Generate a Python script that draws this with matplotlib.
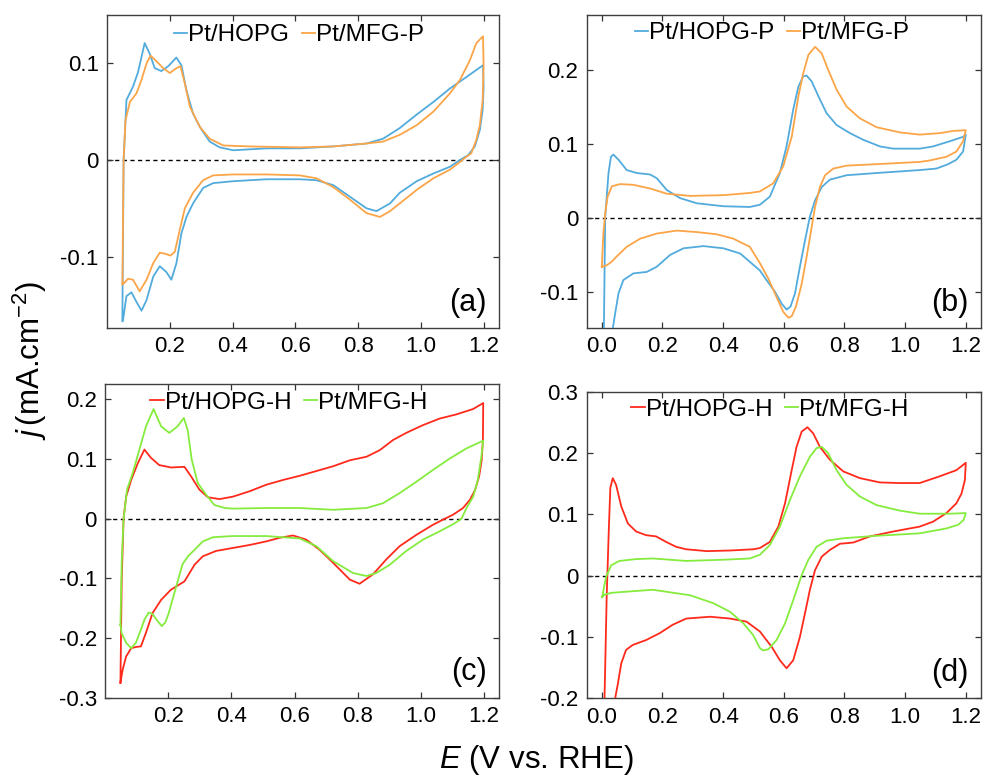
import numpy as np
import matplotlib
matplotlib.use("Agg")
import matplotlib.pyplot as plt

plt.rcParams['font.family'] = ['Liberation Sans', 'DejaVu Sans']
plt.rcParams['mathtext.fontset'] = 'custom'
plt.rcParams['mathtext.rm'] = 'Liberation Sans'
plt.rcParams['mathtext.it'] = 'Liberation Sans:italic'
plt.rcParams['axes.unicode_minus'] = False

# ---- panel (a): Pt/HOPG vs Pt/MFG-P ----
a_hopg_E_up = [0.049, 0.053, 0.062, 0.083, 0.099, 0.120, 0.136, 0.152, 0.173, 0.195, 0.221, 0.237, 0.253,
               0.274, 0.296, 0.327, 0.359, 0.402, 0.508, 0.614, 0.720, 0.826, 0.879, 0.932, 0.986, 1.039,
               1.092, 1.145, 1.197]
a_hopg_j_up = [-0.167, 0.0, 0.062, 0.076, 0.091, 0.121, 0.110, 0.095, 0.092, 0.097, 0.106, 0.098, 0.072,
               0.048, 0.034, 0.019, 0.013, 0.010, 0.012, 0.012, 0.014, 0.017, 0.022, 0.033, 0.047, 0.060,
               0.074, 0.086, 0.098]
a_hopg_E_dn = [1.199, 1.196, 1.187, 1.171, 1.150, 1.124, 1.092, 1.039, 0.986, 0.932, 0.901, 0.858, 0.826,
               0.773, 0.720, 0.667, 0.614, 0.508, 0.402, 0.338, 0.306, 0.274, 0.253, 0.237, 0.221, 0.205,
               0.189, 0.168, 0.147, 0.126, 0.110, 0.094, 0.078, 0.062, 0.051]
a_hopg_j_dn = [0.076, 0.052, 0.031, 0.014, 0.005, 0.0, -0.007, -0.014, -0.022, -0.034, -0.045, -0.053, -0.050,
               -0.038, -0.026, -0.021, -0.020, -0.020, -0.022, -0.024, -0.029, -0.045, -0.059, -0.076,
               -0.107, -0.124, -0.116, -0.110, -0.121, -0.145, -0.156, -0.147, -0.137, -0.141, -0.166]

a_mfgp_E_up = [0.049, 0.053, 0.059, 0.073, 0.094, 0.110, 0.126, 0.139, 0.158, 0.179, 0.200, 0.221, 0.234,
               0.248, 0.264, 0.296, 0.327, 0.370, 0.455, 0.614, 0.720, 0.826, 0.879, 0.932, 0.986, 1.039,
               1.092, 1.124, 1.155, 1.176, 1.197]
a_mfgp_j_up = [-0.129, 0.0, 0.041, 0.060, 0.069, 0.083, 0.100, 0.108, 0.102, 0.095, 0.090, 0.095, 0.097,
               0.079, 0.055, 0.034, 0.022, 0.015, 0.014, 0.013, 0.014, 0.017, 0.019, 0.026, 0.036, 0.050,
               0.069, 0.083, 0.103, 0.121, 0.128]
a_mfgp_E_dn = [1.199, 1.196, 1.187, 1.176, 1.160, 1.139, 1.124, 1.092, 1.039, 0.986, 0.932, 0.901, 0.869,
               0.826, 0.773, 0.720, 0.667, 0.614, 0.508, 0.402, 0.338, 0.306, 0.274, 0.248, 0.232, 0.216,
               0.202, 0.184, 0.168, 0.147, 0.126, 0.104, 0.083, 0.067, 0.053]
a_mfgp_j_dn = [0.097, 0.062, 0.036, 0.021, 0.007, 0.002, -0.002, -0.010, -0.019, -0.031, -0.045, -0.053,
               -0.059, -0.055, -0.041, -0.028, -0.019, -0.016, -0.015, -0.015, -0.016, -0.021, -0.034,
               -0.050, -0.072, -0.095, -0.099, -0.097, -0.096, -0.107, -0.124, -0.136, -0.124, -0.123, -0.128]

# ---- panel (b): Pt/HOPG-P vs Pt/MFG-P ----
b_hopg_E_up = [0.004, 0.011, 0.022, 0.030, 0.038, 0.055, 0.082, 0.115, 0.159, 0.181, 0.214, 0.258, 0.313,
               0.401, 0.488, 0.521, 0.554, 0.587, 0.609, 0.631, 0.648, 0.664, 0.675, 0.692, 0.714, 0.741,
               0.774, 0.818, 0.862, 0.917, 0.961, 1.048, 1.092, 1.147, 1.191, 1.200]
b_hopg_j_up = [-0.25, 0.0, 0.061, 0.083, 0.086, 0.079, 0.065, 0.061, 0.059, 0.054, 0.038, 0.027, 0.020,
               0.016, 0.015, 0.018, 0.029, 0.061, 0.097, 0.147, 0.178, 0.192, 0.193, 0.185, 0.165, 0.142,
               0.126, 0.115, 0.106, 0.097, 0.094, 0.094, 0.097, 0.104, 0.110, 0.113]
b_hopg_E_dn = [1.191, 1.169, 1.142, 1.103, 1.048, 0.906, 0.807, 0.752, 0.725, 0.703, 0.686, 0.670, 0.653,
               0.637, 0.622, 0.609, 0.593, 0.571, 0.543, 0.521, 0.456, 0.401, 0.335, 0.269, 0.225, 0.181,
               0.148, 0.104, 0.071, 0.055, 0.044, 0.036, 0.030]
b_hopg_j_dn = [0.090, 0.079, 0.073, 0.067, 0.065, 0.061, 0.058, 0.052, 0.042, 0.024, 0.002, -0.030, -0.066,
               -0.102, -0.120, -0.124, -0.116, -0.100, -0.084, -0.071, -0.048, -0.041, -0.038, -0.041,
               -0.050, -0.066, -0.073, -0.075, -0.084, -0.102, -0.129, -0.150, -0.25]

b_mfgp_E_up = [0.0, 0.005, 0.011, 0.019, 0.033, 0.060, 0.104, 0.159, 0.214, 0.291, 0.401, 0.488, 0.521,
               0.565, 0.598, 0.626, 0.648, 0.664, 0.681, 0.703, 0.725, 0.746, 0.774, 0.807, 0.851, 0.906,
               0.983, 1.048, 1.114, 1.158, 1.200]
b_mfgp_j_up = [-0.066, -0.021, 0.006, 0.029, 0.043, 0.046, 0.045, 0.040, 0.033, 0.030, 0.031, 0.034, 0.036,
               0.047, 0.070, 0.110, 0.165, 0.196, 0.221, 0.232, 0.223, 0.201, 0.174, 0.151, 0.135, 0.123,
               0.116, 0.113, 0.115, 0.118, 0.119]
b_mfgp_E_dn = [1.191, 1.169, 1.136, 1.081, 1.048, 0.906, 0.807, 0.763, 0.736, 0.719, 0.703, 0.692, 0.675,
               0.659, 0.640, 0.626, 0.615, 0.598, 0.576, 0.549, 0.521, 0.488, 0.434, 0.379, 0.313, 0.247,
               0.181, 0.126, 0.082, 0.049, 0.033, 0.016, 0.0]
b_mfgp_j_dn = [0.104, 0.090, 0.083, 0.078, 0.076, 0.073, 0.071, 0.067, 0.058, 0.042, 0.015, -0.012, -0.053,
               -0.089, -0.120, -0.133, -0.135, -0.127, -0.107, -0.082, -0.061, -0.039, -0.028, -0.022,
               -0.019, -0.017, -0.021, -0.028, -0.039, -0.052, -0.059, -0.064, -0.066]

# ---- panel (c): Pt/HOPG-H vs Pt/MFG-H ----
c_hopg_E_up = [0.048, 0.052, 0.058, 0.066, 0.082, 0.103, 0.124, 0.145, 0.171, 0.208, 0.251, 0.272, 0.298,
               0.325, 0.362, 0.404, 0.457, 0.510, 0.563, 0.616, 0.669, 0.722, 0.775, 0.828, 0.870, 0.912,
               0.954, 1.007, 1.060, 1.113, 1.166, 1.198]
c_hopg_j_up = [-0.275, -0.102, 0.001, 0.037, 0.065, 0.093, 0.116, 0.102, 0.090, 0.086, 0.087, 0.071, 0.049,
               0.036, 0.033, 0.037, 0.046, 0.057, 0.065, 0.072, 0.080, 0.088, 0.098, 0.104, 0.115, 0.132,
               0.144, 0.157, 0.168, 0.175, 0.184, 0.194]
c_hopg_E_dn = [1.197, 1.193, 1.185, 1.172, 1.156, 1.134, 1.103, 1.076, 1.039, 0.986, 0.933, 0.891, 0.849,
               0.806, 0.775, 0.743, 0.711, 0.679, 0.637, 0.595, 0.552, 0.510, 0.457, 0.404, 0.351, 0.309,
               0.283, 0.251, 0.208, 0.177, 0.150, 0.129, 0.113, 0.097, 0.082, 0.066, 0.055, 0.048]
c_hopg_j_dn = [0.132, 0.098, 0.071, 0.048, 0.032, 0.018, 0.007, 0.0, -0.010, -0.027, -0.046, -0.068, -0.093,
               -0.109, -0.102, -0.085, -0.068, -0.052, -0.035, -0.028, -0.032, -0.038, -0.044, -0.049,
               -0.054, -0.063, -0.077, -0.105, -0.119, -0.136, -0.158, -0.191, -0.214, -0.215, -0.217,
               -0.231, -0.253, -0.275]

c_mfgh_E_up = [0.048, 0.052, 0.058, 0.069, 0.087, 0.108, 0.129, 0.153, 0.177, 0.203, 0.229, 0.249, 0.261,
               0.274, 0.293, 0.320, 0.346, 0.380, 0.404, 0.510, 0.616, 0.722, 0.828, 0.880, 0.933, 0.986,
               1.039, 1.092, 1.145, 1.198]
c_mfgh_j_up = [-0.178, -0.074, 0.0, 0.049, 0.077, 0.116, 0.155, 0.184, 0.155, 0.144, 0.155, 0.169, 0.149,
               0.099, 0.060, 0.040, 0.023, 0.018, 0.017, 0.018, 0.018, 0.015, 0.018, 0.026, 0.043, 0.062,
               0.082, 0.101, 0.118, 0.131]
c_mfgh_E_dn = [1.192, 1.181, 1.166, 1.145, 1.129, 1.103, 1.060, 1.007, 0.954, 0.902, 0.859, 0.828, 0.785,
               0.722, 0.669, 0.616, 0.510, 0.404, 0.341, 0.309, 0.283, 0.262, 0.245, 0.232, 0.215, 0.200,
               0.190, 0.179, 0.165, 0.150, 0.138, 0.125, 0.110, 0.097, 0.082, 0.066, 0.052, 0.048]
c_mfgh_j_dn = [0.104, 0.065, 0.037, 0.018, 0.0, -0.009, -0.021, -0.035, -0.054, -0.077, -0.091, -0.096,
               -0.091, -0.071, -0.046, -0.033, -0.029, -0.029, -0.031, -0.038, -0.052, -0.063, -0.076,
               -0.100, -0.132, -0.160, -0.174, -0.180, -0.171, -0.160, -0.157, -0.168, -0.190, -0.208,
               -0.217, -0.208, -0.192, -0.178]

# ---- panel (d): Pt/HOPG-H vs Pt/MFG-H ----
d_hopg_E_up = [0.006, 0.009, 0.016, 0.023, 0.028, 0.036, 0.047, 0.064, 0.086, 0.113, 0.146, 0.179, 0.212,
               0.245, 0.278, 0.346, 0.423, 0.499, 0.521, 0.554, 0.582, 0.604, 0.626, 0.642, 0.659, 0.678,
               0.697, 0.719, 0.752, 0.796, 0.851, 0.917, 0.983, 1.048, 1.114, 1.169, 1.200]
d_hopg_j_up = [-0.30, -0.197, -0.034, 0.075, 0.143, 0.159, 0.148, 0.113, 0.085, 0.072, 0.066, 0.064, 0.055,
               0.047, 0.043, 0.040, 0.041, 0.043, 0.045, 0.055, 0.080, 0.118, 0.172, 0.210, 0.235, 0.242,
               0.232, 0.210, 0.189, 0.170, 0.159, 0.152, 0.151, 0.151, 0.162, 0.172, 0.184]
d_hopg_E_dn = [1.197, 1.186, 1.169, 1.136, 1.092, 1.048, 0.961, 0.884, 0.829, 0.785, 0.752, 0.725, 0.703,
               0.686, 0.670, 0.653, 0.631, 0.609, 0.587, 0.560, 0.538, 0.521, 0.477, 0.423, 0.357, 0.278,
               0.234, 0.190, 0.146, 0.102, 0.080, 0.064, 0.053, 0.045, 0.035]
d_hopg_j_dn = [0.156, 0.134, 0.118, 0.102, 0.088, 0.080, 0.072, 0.064, 0.054, 0.052, 0.042, 0.031, 0.009,
               -0.023, -0.061, -0.100, -0.138, -0.151, -0.138, -0.116, -0.102, -0.091, -0.075, -0.070,
               -0.067, -0.070, -0.080, -0.094, -0.105, -0.113, -0.121, -0.143, -0.176, -0.197, -0.30]

d_mfgh_E_up = [0.001, 0.014, 0.031, 0.058, 0.113, 0.168, 0.278, 0.401, 0.488, 0.521, 0.554, 0.587, 0.620,
               0.653, 0.686, 0.708, 0.725, 0.746, 0.774, 0.807, 0.851, 0.906, 0.983, 1.048, 1.147, 1.200]
d_mfgh_j_up = [-0.035, -0.002, 0.017, 0.024, 0.027, 0.028, 0.024, 0.026, 0.028, 0.034, 0.050, 0.080, 0.123,
               0.162, 0.194, 0.208, 0.210, 0.200, 0.172, 0.148, 0.129, 0.115, 0.106, 0.101, 0.101, 0.102]
d_mfgh_E_dn = [1.193, 1.175, 1.136, 1.048, 0.906, 0.796, 0.741, 0.708, 0.681, 0.659, 0.631, 0.604, 0.576,
               0.549, 0.532, 0.521, 0.499, 0.467, 0.423, 0.368, 0.291, 0.168, 0.058, 0.031, 0.009, 0.001]
d_mfgh_j_dn = [0.091, 0.083, 0.077, 0.069, 0.065, 0.061, 0.057, 0.047, 0.026, 0.001, -0.040, -0.078, -0.105,
               -0.120, -0.122, -0.118, -0.097, -0.078, -0.059, -0.045, -0.032, -0.023, -0.027, -0.028,
               -0.031, -0.035]

blue, orange, red, green = '#52ABDD', '#FBA548', '#FF2A1C', '#85EC3E'


def loop(E_up, j_up, E_dn, j_dn):
    return E_up + E_dn, j_up + j_dn


def style_axes(ax, xlim, ylim, xticks, yticks, label):
    ax.set_xlim(*xlim)
    ax.set_ylim(*ylim)
    ax.set_xticks(xticks)
    ax.set_xticklabels([f"{t:.1f}" for t in xticks])
    ax.set_yticks(yticks)
    ax.set_yticklabels(["0" if abs(t) < 1e-9 else f"{t:.1f}" for t in yticks])
    ax.tick_params(direction='in', length=4.5, width=0.9, top=True, right=True,
                   labelsize=16, pad=6, color='#333333')
    for s in ax.spines.values():
        s.set_linewidth(1.0)
        s.set_color('#404040')
    ax.axhline(0, color='black', lw=1.0, ls=(0, (3, 2.5)), zorder=1)
    ax.text(0.968, 0.055, label, transform=ax.transAxes, ha='right', va='baseline', fontsize=22)


fig = plt.figure(figsize=(9.85, 7.79), dpi=100)
ax_a = fig.add_axes([0.1086, 0.5789, 0.3980, 0.4018])
ax_b = fig.add_axes([0.5956, 0.5789, 0.4003, 0.4018])
ax_c = fig.add_axes([0.1069, 0.1044, 0.3997, 0.4027])
ax_d = fig.add_axes([0.5956, 0.1036, 0.4003, 0.3936])

lw = 1.3
panels = [
    (ax_a, [(a_hopg_E_up, a_hopg_j_up, a_hopg_E_dn, a_hopg_j_dn, blue, 'Pt/HOPG'),
            (a_mfgp_E_up, a_mfgp_j_up, a_mfgp_E_dn, a_mfgp_j_dn, orange, 'Pt/MFG-P')],
     (0.0, 1.248), (-0.174, 0.150), [0.2, 0.4, 0.6, 0.8, 1.0, 1.2], [-0.1, 0.0, 0.1], '(a)', (0.49, 0.936)),
    (ax_b, [(b_hopg_E_up, b_hopg_j_up, b_hopg_E_dn, b_hopg_j_dn, blue, 'Pt/HOPG-P'),
            (b_mfgp_E_up, b_mfgp_j_up, b_mfgp_E_dn, b_mfgp_j_dn, orange, 'Pt/MFG-P')],
     (-0.05, 1.25), (-0.149, 0.275), [0.0, 0.2, 0.4, 0.6, 0.8, 1.0, 1.2], [-0.1, 0.0, 0.1, 0.2], '(b)', (0.47, 0.942)),
    (ax_c, [(c_hopg_E_up, c_hopg_j_up, c_hopg_E_dn, c_hopg_j_dn, red, 'Pt/HOPG-H'),
            (c_mfgh_E_up, c_mfgh_j_up, c_mfgh_E_dn, c_mfgh_j_dn, green, 'Pt/MFG-H')],
     (0.0, 1.248), (-0.3, 0.226), [0.2, 0.4, 0.6, 0.8, 1.0, 1.2], [-0.3, -0.2, -0.1, 0.0, 0.1, 0.2], '(c)', (0.467, 0.94)),
    (ax_d, [(d_hopg_E_up, d_hopg_j_up, d_hopg_E_dn, d_hopg_j_dn, red, 'Pt/HOPG-H'),
            (d_mfgh_E_up, d_mfgh_j_up, d_mfgh_E_dn, d_mfgh_j_dn, green, 'Pt/MFG-H')],
     (-0.05, 1.25), (-0.2, 0.3), [0.0, 0.2, 0.4, 0.6, 0.8, 1.0, 1.2], [-0.2, -0.1, 0.0, 0.1, 0.2, 0.3], '(d)', (0.465, 0.941)),
]

for ax, series, xlim, ylim, xt, yt, label, leg_pos in panels:
    for E_up, j_up, E_dn, j_dn, color, name in series:
        E, j = loop(E_up, j_up, E_dn, j_dn)
        ax.plot(E, j, color=color, lw=lw, label=name, zorder=3, solid_joinstyle='round')
    style_axes(ax, xlim, ylim, xt, yt, label)
    ax.legend(loc='center', bbox_to_anchor=leg_pos, ncol=2, frameon=False, fontsize=17.5,
              handlelength=0.55, handletextpad=0.05, columnspacing=0.5, borderpad=0, borderaxespad=0)

fig.text(0.030, 0.537, r'$j\,$(mA.cm$^{-2}$)', rotation=90, ha='center', va='center', fontsize=22.5)
fig.text(0.544, 0.024, r'$E$ (V vs. RHE)', ha='center', va='center', fontsize=22.5)

fig.savefig('out.png', dpi=100)
